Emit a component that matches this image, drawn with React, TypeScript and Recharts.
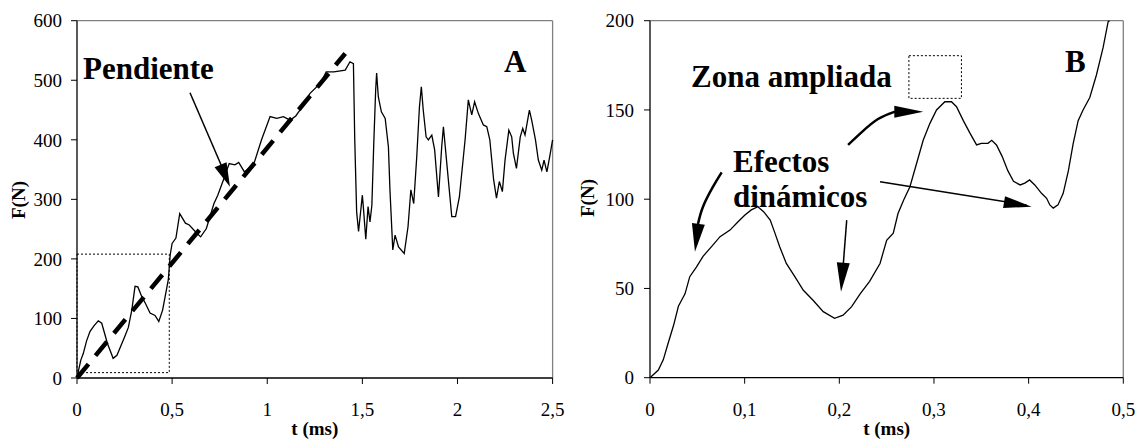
import React from 'react';
import { LineChart, Line, XAxis, YAxis, ReferenceLine, ReferenceArea, ReferenceDot } from 'recharts';

const FONT = '"Liberation Serif", "Times New Roman", Times, serif';

// ---------- Chart A data ----------
const timeA = [0, 0.005, 0.02, 0.033, 0.05, 0.068, 0.09, 0.112, 0.13, 0.16, 0.19, 0.21, 0.25, 0.27, 0.288, 0.305, 0.32, 0.34, 0.36, 0.384, 0.41, 0.43, 0.45, 0.48, 0.49, 0.5, 0.52, 0.54, 0.57, 0.59, 0.63, 0.65, 0.68, 0.72, 0.74, 0.77, 0.8, 0.83, 0.85, 0.88, 0.93, 0.97, 1.015, 1.05, 1.085, 1.12, 1.15, 1.19, 1.225, 1.28, 1.31, 1.35, 1.41, 1.435, 1.453, 1.46, 1.47, 1.48, 1.5, 1.505, 1.518, 1.53, 1.54, 1.55, 1.56, 1.57, 1.575, 1.584, 1.6, 1.62, 1.637, 1.645, 1.66, 1.672, 1.69, 1.72, 1.74, 1.755, 1.77, 1.786, 1.8, 1.81, 1.82, 1.835, 1.847, 1.865, 1.88, 1.9, 1.917, 1.926, 1.944, 1.97, 1.99, 2.01, 2.04, 2.057, 2.075, 2.09, 2.11, 2.136, 2.154, 2.17, 2.19, 2.205, 2.22, 2.236, 2.25, 2.27, 2.285, 2.294, 2.31, 2.33, 2.343, 2.355, 2.378, 2.39, 2.41, 2.425, 2.443, 2.455, 2.47, 2.486, 2.5];
const forceA = [0, 8, 30, 41, 62, 78, 88, 96, 92, 58, 33, 38, 69, 85, 114, 154, 153, 137, 125, 109, 105, 95, 114, 165, 207, 226, 235, 276, 260, 257, 243, 237, 251, 293, 307, 333, 360, 358, 362, 346, 360, 400, 439, 436, 439, 433, 440, 458, 478, 495, 514, 514, 517, 531, 528, 400, 279, 246, 307, 288, 233, 288, 262, 290, 394, 484, 512, 472, 447, 436, 388, 316, 215, 240, 220, 209, 254, 316, 293, 372, 455, 489, 450, 405, 400, 408, 383, 304, 388, 422, 360, 271, 271, 304, 400, 467, 442, 464, 444, 425, 422, 400, 333, 302, 330, 313, 366, 416, 405, 377, 352, 405, 419, 408, 450, 433, 400, 366, 349, 366, 346, 374, 400];
const slopeTime = [0, 1.41];
const slopeForce = [0, 545];
const ticksAX = [0, 0.5, 1, 1.5, 2, 2.5];
const ticksAY = [0, 100, 200, 300, 400, 500, 600];

// ---------- Chart B data ----------
const timeB = [0, 0.0088, 0.014, 0.019, 0.025, 0.03, 0.037, 0.042, 0.049, 0.056, 0.065, 0.074, 0.0845, 0.093, 0.1, 0.107, 0.114, 0.12, 0.127, 0.132, 0.137, 0.144, 0.153, 0.162, 0.172, 0.183, 0.195, 0.204, 0.213, 0.222, 0.232, 0.243, 0.25, 0.257, 0.262, 0.268, 0.2746, 0.2816, 0.2886, 0.2957, 0.3027, 0.3115, 0.3185, 0.3238, 0.331, 0.338, 0.345, 0.35, 0.357, 0.361, 0.366, 0.372, 0.378, 0.384, 0.391, 0.396, 0.401, 0.4065, 0.4136, 0.419, 0.4224, 0.426, 0.431, 0.4365, 0.442, 0.447, 0.4523, 0.4575, 0.4646, 0.4716, 0.4787, 0.484, 0.4855];
const forceB = [0, 4.3, 10, 19, 29.5, 40, 47, 56.6, 62, 68, 73.4, 79, 82.7, 87.4, 91, 94, 95.8, 93, 88.3, 81, 73.4, 64, 56.6, 49, 43.5, 37, 33.3, 35, 39.8, 47, 54, 64, 77, 81, 92, 99.6, 107, 120, 133, 142.5, 150, 154.6, 154.6, 151.8, 144, 137, 130.4, 131.3, 131.3, 133, 130.4, 124, 116, 110, 108, 109, 110.8, 108, 103.3, 100.5, 96.8, 95, 96.8, 103.3, 116, 131, 144, 150, 157, 169.6, 185, 199.5, 200];
const ticksBX = [0, 0.1, 0.2, 0.3, 0.4, 0.5];
const ticksBY = [0, 50, 100, 150, 200];

// annotation arrow shafts (data coordinates)
const zonaArrowT = [0.2092, 0.224, 0.2409, 0.2588];
const zonaArrowF = [130.4, 137.7, 144.9, 149.1];
const efectosArrowT = [0.0757, 0.0666, 0.056, 0.0507];
const efectosArrowF = [115, 107, 95.8, 86.1];

const zip = (ts: number[], fs: number[]) => ts.map((t, i) => ({ t, F: fs[i] }));

const dataA = zip(timeA, forceA);
const dataSlope = zip(slopeTime, slopeForce);
const dataB = zip(timeB, forceB);
const dataZona = zip(zonaArrowT, zonaArrowF);
const dataEfectos = zip(efectosArrowT, efectosArrowF);

const fmt = (v: number) => String(v).replace('.', ',');

const textShape = (label: string, size = 31) => (p: any) => (
  <text x={p.cx} y={p.cy} fontFamily={FONT} fontWeight="bold" fontSize={size} fill="#000">
    {label}
  </text>
);

const headShape = (angle: number, len = 28, w = 13) => (p: any) => (
  <polygon
    points={`0,0 ${-len},${-w / 2} ${-len},${w / 2}`}
    transform={`translate(${p.cx},${p.cy}) rotate(${angle})`}
    fill="#000"
  />
);

const tickStyle = { fill: '#000', fontSize: 19, fontFamily: FONT };
const axisLineStyle = { stroke: '#000', strokeWidth: 1.3 };

const xTitle = (cx: number) => () => (
  <text x={cx} y={435} textAnchor="middle" fontFamily={FONT} fontWeight="bold" fontSize={19} fill="#000">
    t (ms)
  </text>
);
const yTitle = (x: number, y: number) => () => (
  <text x={x} y={y} transform={`rotate(-90, ${x}, ${y})`} textAnchor="middle" fontFamily={FONT} fontWeight="bold" fontSize={19} fill="#000">
    F(N)
  </text>
);

export default function App() {
  return (
    <div style={{ position: 'absolute', left: 0, top: 0, width: 1142, height: 441, background: '#fff', fontFamily: FONT }}>
      <div style={{ position: 'absolute', left: 0, top: 0 }}>
        <LineChart width={570} height={441} margin={{ top: 20.7, right: 17.4, bottom: 33, left: 17 }}>
          <XAxis
            type="number"
            dataKey="t"
            domain={[0, 2.5]}
            ticks={ticksAX}
            interval={0}
            tickFormatter={fmt}
            height={30}
            tickSize={6}
            tickMargin={19}
            tick={tickStyle}
            axisLine={axisLineStyle}
            tickLine={{ stroke: '#000' }}
            label={{ content: xTitle(314.8) }}
          />
          <YAxis
            type="number"
            dataKey="F"
            domain={[0, 600]}
            ticks={ticksAY}
            interval={0}
            width={60}
            tickSize={6}
            tickMargin={9}
            tick={tickStyle}
            axisLine={axisLineStyle}
            tickLine={{ stroke: '#000' }}
            label={{ content: yTitle(25, 200) }}
          />
          <ReferenceLine y={600} stroke="#808080" strokeWidth={1.3} />
          <ReferenceLine x={2.5} stroke="#808080" strokeWidth={1.3} />
          <ReferenceArea x1={0} x2={0.485} y1={9} y2={208} fill="none" stroke="#000" strokeWidth={1} strokeDasharray="2 2" />
          <Line data={dataSlope} dataKey="F" type="linear" stroke="#000" strokeWidth={4.5} strokeDasharray="18 11" dot={false} activeDot={false} isAnimationActive={false} />
          <Line data={dataA} dataKey="F" type="linear" stroke="#000" strokeWidth={1.3} dot={false} activeDot={false} isAnimationActive={false} />
          <ReferenceLine segment={[{ x: 0.594, y: 479 }, { x: 0.795, y: 330 }]} stroke="#000" strokeWidth={1.5} />
          <ReferenceDot x={0.804} y={321} r={0} shape={headShape(67, 24, 13)} />
          <ReferenceDot x={0.0315} y={502} r={0} shape={textShape('Pendiente')} />
          <ReferenceDot x={2.245} y={514} r={0} shape={textShape('A')} />
        </LineChart>
      </div>
      <div style={{ position: 'absolute', left: 570, top: 0 }}>
        <LineChart width={572} height={441} margin={{ top: 20.7, right: 18.7, bottom: 33.3, left: 20 }}>
          <XAxis
            type="number"
            dataKey="t"
            domain={[0, 0.5]}
            ticks={ticksBX}
            interval={0}
            tickFormatter={fmt}
            height={30}
            tickSize={6}
            tickMargin={19}
            tick={tickStyle}
            axisLine={axisLineStyle}
            tickLine={{ stroke: '#000' }}
            label={{ content: xTitle(316.7) }}
          />
          <YAxis
            type="number"
            dataKey="F"
            domain={[0, 200]}
            ticks={ticksBY}
            interval={0}
            width={60}
            tickSize={6}
            tickMargin={10}
            tick={tickStyle}
            axisLine={axisLineStyle}
            tickLine={{ stroke: '#000' }}
            label={{ content: yTitle(24, 198) }}
          />
          <ReferenceLine y={200} stroke="#808080" strokeWidth={1.3} />
          <ReferenceLine x={0.5} stroke="#808080" strokeWidth={1.3} />
          <ReferenceArea x1={0.2735} x2={0.329} y1={156.5} y2={180.4} fill="none" stroke="#000" strokeWidth={1} strokeDasharray="2 2" />
          <Line data={dataB} dataKey="F" type="linear" stroke="#000" strokeWidth={1.3} dot={false} activeDot={false} isAnimationActive={false} />
          <Line data={dataZona} dataKey="F" type="natural" stroke="#000" strokeWidth={2.5} dot={false} activeDot={false} isAnimationActive={false} />
          <Line data={dataEfectos} dataKey="F" type="natural" stroke="#000" strokeWidth={2.5} dot={false} activeDot={false} isAnimationActive={false} />
          <ReferenceDot x={0.2887} y={149} r={0} shape={headShape(0, 29, 12)} />
          <ReferenceDot x={0.0475} y={70.6} r={0} shape={headShape(97, 28, 13)} />
          <ReferenceLine segment={[{ x: 0.2078, y: 88.3 }, { x: 0.2025, y: 52 }]} stroke="#000" strokeWidth={1.5} />
          <ReferenceDot x={0.2018} y={48.2} r={0} shape={headShape(94.5, 29, 13)} />
          <ReferenceLine segment={[{ x: 0.243, y: 109.8 }, { x: 0.398, y: 96.6 }]} stroke="#000" strokeWidth={1.5} />
          <ReferenceDot x={0.4032} y={95.8} r={0} shape={headShape(9.4, 28, 12)} />
          <ReferenceDot x={0.0433} y={162.7} r={0} shape={textShape('Zona ampliada')} />
          <ReferenceDot x={0.0877} y={115.4} r={0} shape={textShape('Efectos')} />
          <ReferenceDot x={0.0877} y={95.6} r={0} shape={textShape('dinámicos')} />
          <ReferenceDot x={0.4384} y={171.4} r={0} shape={textShape('B')} />
        </LineChart>
      </div>
    </div>
  );
}
